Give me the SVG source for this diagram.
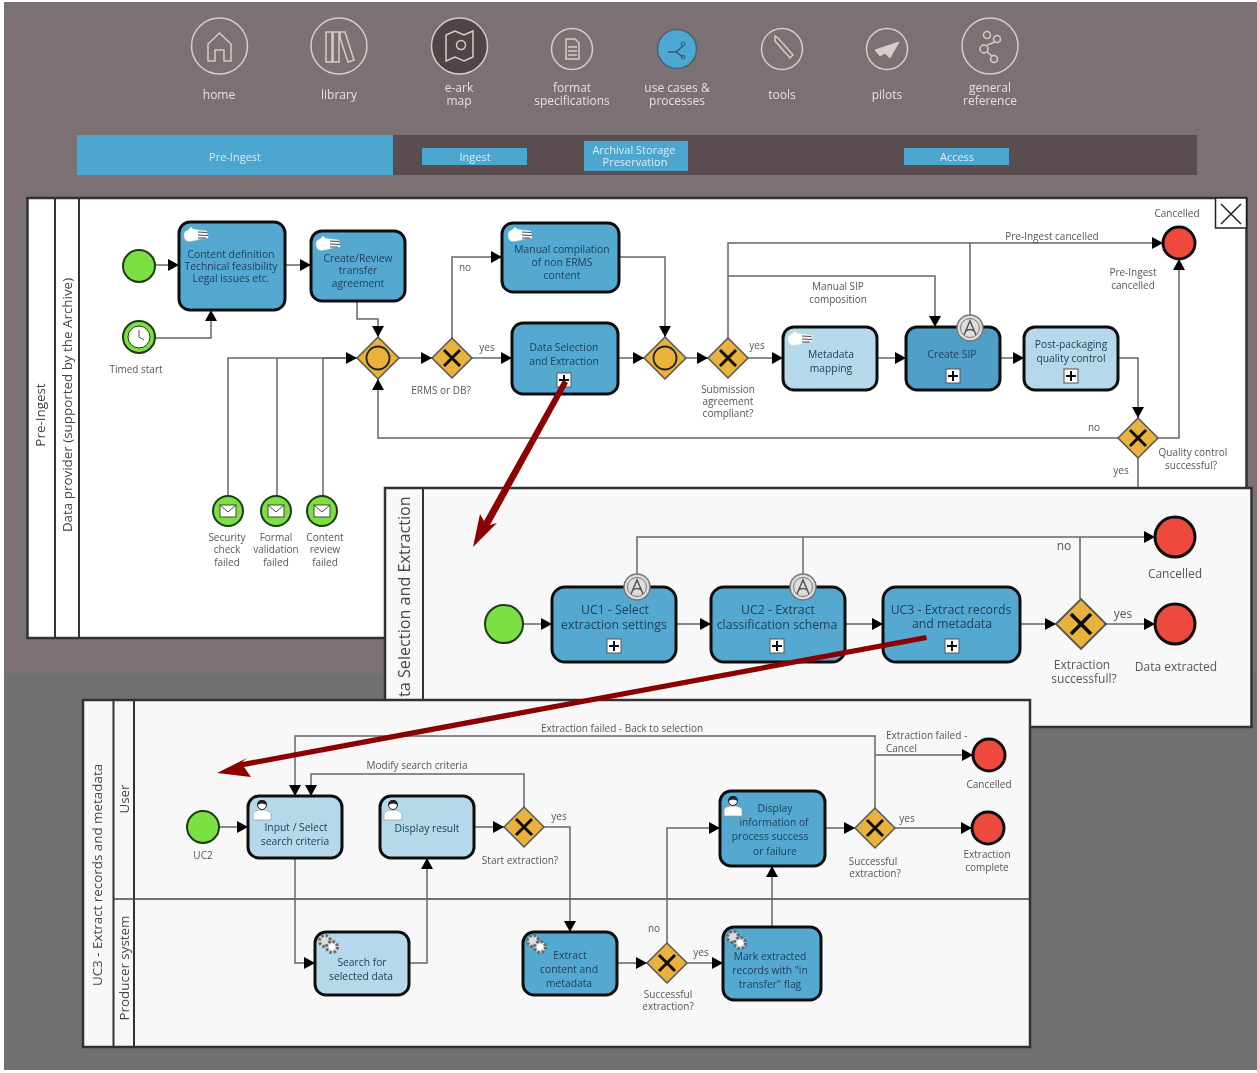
<svg xmlns="http://www.w3.org/2000/svg" width="1257" height="1073" viewBox="0 0 1257 1073">
<style>
text{font-family:"Open Sans","Liberation Sans",sans-serif;text-anchor:middle}
.nav{font-size:12px;fill:#e4dfdf}
.bar{font-size:11px;fill:#d9edf7}
.lb{font-size:10px;fill:#555}
.lbs{font-size:10px;fill:#555;text-anchor:start}
.lb2{font-size:12px;fill:#555}
.t{font-size:10.300px;fill:#20425c}
.t2{font-size:12.300px;fill:#20425c}
.lane{font-size:13.400px;fill:#444}
.ic{fill:none;stroke:#d5cccc;stroke-width:1.5}
.pane{stroke:#333;stroke-width:2.5}
.ln{stroke:#333;stroke-width:2;fill:none}
.dk{fill:#55a8d0;stroke:#111;stroke-width:3}
.lt{fill:#b5d9ea;stroke:#111;stroke-width:3}
.start{fill:#7be042;stroke:#1d3a12;stroke-width:2}
.end{fill:#ee4a3d;stroke:#111;stroke-width:3}
.c{fill:none;stroke:#666;stroke-width:1.5;marker-end:url(#ah)}
.c0{fill:none;stroke:#666;stroke-width:1.5}
</style>
<defs>
<filter id="soft" x="0" y="0" width="100%" height="100%"><feGaussianBlur stdDeviation="0.45"/></filter>
<marker id="ah" markerUnits="userSpaceOnUse" markerWidth="12" markerHeight="12" refX="11" refY="6" orient="auto"><path d="M0 0L11 6L0 12Z" fill="#000"/></marker>
<g id="gx"><path d="M-20 0L0-20L20 0L0 20Z" fill="#e9b23c" stroke="#555" stroke-width="1.5"/><path d="M-8-8L8 8M8-8L-8 8" stroke="#111" stroke-width="3"/></g>
<g id="go"><path d="M-21 0L0-21L21 0L0 21Z" fill="#e9b23c" stroke="#555" stroke-width="1.5"/><circle r="11.5" fill="none" stroke="#222" stroke-width="1.8"/></g>
<g id="plus"><rect x="-7" y="-7" width="14" height="14" fill="#fff" stroke="#555"/><path d="M-5 0H5M0-5V5" stroke="#111" stroke-width="2"/></g>
<g id="hand"><path d="M1 8Q1 4 5 3L8 0L10 2L15 3L24 4V7L25 8V11L17 12Q8 15 4 14Q1 12 1 8Z" fill="#fff" stroke="#ddd" stroke-width=".5"/><path d="M15 5L24 5.500M15 8L25 8.500M15 11L23 11" stroke="#444" stroke-width="1"/></g>
<g id="user"><path d="M0 21V15Q0 12 6 11L12 11Q18 12 18 15V21Z" fill="#fff" stroke="#999" stroke-width=".7"/><circle cx="9" cy="6" r="4.5" fill="#fff" stroke="#222"/><path d="M4.500 6Q4 1 9 1Q14 1 13.500 6Q9 3 4.500 6Z" fill="#222"/></g>
<g id="gear1"><circle r="5.500" fill="#ddd" stroke="#666" stroke-width="3" stroke-dasharray="2.500 1.800"/></g>
<g id="gears"><use href="#gear1" x="7" y="7"/><use href="#gear1" x="14" y="13"/><circle cx="14" cy="13" r="3" fill="#fff"/></g>
<g id="attach"><circle r="13" fill="#ddd" stroke="#777" stroke-width="1.500"/><circle r="9.500" fill="none" stroke="#777"/><path d="M-6 7L0-7L6 7M-4 3Q0 0 4 3" fill="none" stroke="#555" stroke-width="1.500"/></g>
</defs>
<rect width="1257" height="1073" fill="#fff"/>
<g filter="url(#soft)">
<rect x="4" y="2" width="1253" height="672" fill="#7b7172"/>
<rect x="4" y="674" width="1253" height="396" fill="#717071"/>

<g id="nav-home"><circle cx="219.500" cy="46" r="28" class="ic"/><path d="M208 61V44L219.500 33L231 44V61H224V50H215V61Z" class="ic"/><text x="219" y="99" class="nav">home</text></g>
<g id="nav-library"><circle cx="339" cy="46" r="28" class="ic"/><path d="M326 32h6v30h-6zM333 32h6v30h-6zM340 32h5l9 28-6 2-8-24z" class="ic"/><text x="339" y="99" class="nav">library</text></g>
<g id="nav-map"><circle cx="459.500" cy="46" r="28" fill="#4f4546" stroke="#d5cccc" stroke-width="1.500"/><path d="M446 35L455 31L464 35L473 31V57L464 61L455 57L446 61Z" class="ic"/><circle cx="461" cy="45" r="4.500" class="ic"/><text x="459" y="92" class="nav">e-ark</text><text x="459" y="105" class="nav">map</text></g>
<g id="nav-format"><circle cx="572" cy="49" r="20.500" class="ic"/><path d="M566 39H575L579 43V59H566Z" class="ic"/><path d="M568 47H577M568 51H577M568 55H577" class="ic"/><text x="572" y="92" class="nav">format</text><text x="572" y="105" class="nav">specifications</text></g>
<g id="nav-usecases"><circle cx="677" cy="49" r="19.500" fill="#4ea9d4" stroke="#4b6070" stroke-width="1.500"/><path d="M668 52H676L683 46M676 52L683 57" fill="none" stroke="#37566a" stroke-width="1.500"/><circle cx="683" cy="44" r="2" fill="none" stroke="#37566a"/><circle cx="683" cy="57" r="2" fill="none" stroke="#37566a"/><text x="677" y="92" class="nav">use cases &amp;</text><text x="677" y="105" class="nav">processes</text></g>
<g id="nav-tools"><circle cx="782" cy="49" r="20.500" class="ic"/><path d="M775 41L790 58L793 55L778 38L775 36Z" class="ic"/><text x="782" y="99" class="nav">tools</text></g>
<g id="nav-pilots"><circle cx="887" cy="49" r="20.500" class="ic"/><path d="M875 50L899 42L890 58L885 53L880 56Z" fill="#d5cccc" stroke="#d5cccc"/><text x="887" y="99" class="nav">pilots</text></g>
<g id="nav-general"><circle cx="990" cy="46" r="28" class="ic"/><circle cx="987" cy="35" r="3.500" class="ic"/><circle cx="997" cy="39" r="3.500" class="ic"/><circle cx="984" cy="49" r="4" class="ic"/><circle cx="994" cy="59" r="3.500" class="ic"/><path d="M987 45L995 42M987 52L992 56" class="ic"/><text x="990" y="92" class="nav">general</text><text x="990" y="105" class="nav">reference</text></g>

<g id="phase-bar"><rect x="77" y="135" width="1120" height="40" fill="#5a4d50"/>
<g id="tab-preingest"><rect x="77" y="135" width="316" height="40" fill="#4ea6d0"/><text x="235" y="161" class="bar">Pre-Ingest</text></g>
<g id="tab-ingest"><rect x="422" y="148" width="105" height="17" fill="#4ea6d0"/><text x="475" y="161" class="bar">Ingest</text></g>
<g id="tab-storage"><rect x="584" y="141" width="104" height="30" fill="#4ea6d0"/><text x="634" y="154" class="bar">Archival Storage</text><text x="635" y="166" class="bar">Preservation</text></g>
<g id="tab-access"><rect x="904" y="148" width="105" height="17" fill="#4ea6d0"/><text x="957" y="161" class="bar">Access</text></g></g>

<g id="panel-1"><rect x="27.500" y="198" width="1219" height="440" fill="#fff" class="pane"/><path d="M55 198V638M79 198V638" class="ln"/>
<text transform="translate(45 415) rotate(-90)" class="lane">Pre-Ingest</text><text transform="translate(72 405) rotate(-90)" class="lane">Data provider (supported by the Archive)</text>
<g id="close"><rect x="1215.500" y="198" width="31" height="30" fill="#fff" stroke="#222" stroke-width="1.500"/><path d="M1221 204L1241 224M1241 204L1221 224" stroke="#222" stroke-width="1.500"/></g></g>

<g id="connectors-1">
<path class="c" d="M155 265H179"/><path class="c" d="M285 265H311"/><path class="c" d="M155 338H211V310"/><path class="c" d="M357 301V319H378V337"/>
<path class="c0" d="M228 496V358H357M277 496V358M323 496V358"/><path class="c" d="M323 358H357"/>
<path class="c" d="M1118 438H378V379"/><path class="c" d="M399 358H432"/><path class="c" d="M452 338V257H502"/><path class="c" d="M472 358H512"/><path class="c" d="M618 358H644"/><path class="c" d="M619 257H665V337"/><path class="c" d="M686 358H708"/><path class="c" d="M748 358H783"/>
<path class="c" d="M728 338V243H1163"/><path class="c" d="M728 276H935V327"/><path class="c" d="M877 358H906"/><path class="c" d="M1000 358H1024"/><path class="c0" d="M970 316V243"/>
<path class="c" d="M1118 358H1138V418"/><path class="c" d="M1158 438H1179V259"/><path class="c0" d="M1138 458V489"/>
</g>
<g id="labels-1">
<text x="465" y="271" class="lb">no</text><text x="487" y="351" class="lb">yes</text><text x="441" y="394" class="lb">ERMS or DB?</text>
<text x="728" y="393" class="lb">Submission</text><text x="728" y="405" class="lb">agreement</text><text x="728" y="417" class="lb">compliant?</text>
<text x="757" y="349" class="lb">yes</text><text x="838" y="290" class="lb">Manual SIP</text><text x="838" y="303" class="lb">composition</text>
<text x="1052" y="240" class="lb">Pre-Ingest cancelled</text><text x="1177" y="217" class="lb">Cancelled</text><text x="1133" y="276" class="lb">Pre-Ingest</text><text x="1133" y="289" class="lb">cancelled</text>
<text x="1094" y="431" class="lb">no</text><text x="1193" y="456" class="lb">Quality control</text><text x="1191" y="469" class="lb">successful?</text><text x="1121" y="474" class="lb">yes</text>
</g>
<g id="start-1"><circle cx="139" cy="266" r="16" class="start"/></g>
<g id="timed-start"><circle cx="139" cy="337" r="16" class="start"/><circle cx="139" cy="337" r="11" fill="#fff" stroke="#1d3a12"/><path d="M139 330V337L144 340" fill="none" stroke="#555"/><text x="136" y="373" class="lb">Timed start</text></g>
<g id="content-def"><rect x="179" y="222" width="106" height="88" rx="11" class="dk"/><use href="#hand" x="183" y="227"/><text x="231" y="258" class="t">Content definition</text><text x="231" y="270" class="t">Technical feasibility</text><text x="231" y="282" class="t">Legal issues etc.</text></g>
<g id="create-review"><rect x="311" y="231" width="94" height="70" rx="11" class="dk"/><use href="#hand" x="315" y="236"/><text x="358" y="262" class="t">Create/Review</text><text x="358" y="274" class="t">transfer</text><text x="358" y="287" class="t">agreement</text></g>
<g id="gw-merge-1"><use href="#go" x="378" y="358"/></g>
<g id="gw-erms"><use href="#gx" x="452" y="358"/></g>
<g id="manual"><rect x="502" y="223" width="117" height="69" rx="11" class="dk"/><use href="#hand" x="507" y="227"/><text x="562" y="253" class="t">Manual compilation</text><text x="562" y="266" class="t">of non ERMS</text><text x="562" y="279" class="t">content</text></g>
<g id="data-selection"><rect x="512" y="323" width="106" height="71" rx="11" class="dk"/><text x="564" y="351" class="t">Data Selection</text><text x="564" y="365" class="t">and Extraction</text><use href="#plus" x="564" y="380"/></g>
<g id="gw-merge-2"><use href="#go" x="665" y="358"/></g>
<g id="gw-submission"><use href="#gx" x="728" y="358"/></g>
<g id="metadata"><rect x="783" y="327" width="94" height="63" rx="11" class="lt"/><use href="#hand" x="787" y="331"/><text x="831" y="358" class="t">Metadata</text><text x="831" y="372" class="t">mapping</text></g>
<g id="create-sip"><rect x="906" y="327" width="94" height="63" rx="11" class="dk" style="fill:#4f9fc9"/><text x="952" y="358" class="t">Create SIP</text><use href="#plus" x="953" y="376"/><use href="#attach" x="970" y="328"/></g>
<g id="post-packaging"><rect x="1024" y="327" width="94" height="63" rx="11" class="lt"/><text x="1071" y="348" class="t">Post-packaging</text><text x="1071" y="362" class="t">quality control</text><use href="#plus" x="1071" y="376"/></g>
<g id="gw-quality"><use href="#gx" x="1138" y="438"/></g>
<g id="end-1"><circle cx="1179" cy="243" r="16" class="end"/></g>
<g id="msg-1"><circle cx="228" cy="511" r="15" class="start"/><rect x="220" y="505" width="16" height="12" fill="#fff" stroke="#444"/><path d="M220 505L228 512L236 505" fill="none" stroke="#444"/><text x="227" y="541" class="lb">Security</text><text x="227" y="553" class="lb">check</text><text x="227" y="566" class="lb">failed</text></g>
<g id="msg-2"><circle cx="276" cy="511" r="15" class="start"/><rect x="268" y="505" width="16" height="12" fill="#fff" stroke="#444"/><path d="M268 505L276 512L284 505" fill="none" stroke="#444"/><text x="276" y="541" class="lb">Formal</text><text x="276" y="553" class="lb">validation</text><text x="276" y="566" class="lb">failed</text></g>
<g id="msg-3"><circle cx="322" cy="511" r="15" class="start"/><rect x="314" y="505" width="16" height="12" fill="#fff" stroke="#444"/><path d="M314 505L322 512L330 505" fill="none" stroke="#444"/><text x="325" y="541" class="lb">Content</text><text x="325" y="553" class="lb">review</text><text x="325" y="566" class="lb">failed</text></g>

<g id="panel-2"><rect x="385" y="488" width="866.500" height="239" fill="#f8f8f8" class="pane"/><path d="M423 488V700" class="ln"/><text transform="translate(410 697) rotate(-90)" style="text-anchor:start;font-size:16.200px;fill:#444">ta Selection and Extraction</text></g>
<g id="connectors-2">
<path class="c" d="M523 624H552"/><path class="c" d="M676 624H711"/><path class="c" d="M845 624H883"/><path class="c" d="M1020 624H1056"/><path class="c" d="M1106 624H1155"/>
<path class="c" d="M637 575V537H1155"/><path class="c0" d="M803 575V537M1080 599V537"/>
</g>
<g id="labels-2"><text x="1064" y="550" class="lb2">no</text><text x="1123" y="618" class="lb2">yes</text><text x="1175" y="578" class="lb2">Cancelled</text><text x="1176" y="671" class="lb2">Data extracted</text><text x="1082" y="669" class="lb2">Extraction</text><text x="1084" y="683" class="lb2">successfull?</text></g>
<g id="start-2"><circle cx="504" cy="624" r="19" class="start"/></g>
<g id="uc1"><rect x="552" y="587" width="124" height="75" rx="13" class="dk"/><text x="615" y="614" class="t2">UC1 - Select</text><text x="614" y="629" class="t2">extraction settings</text><use href="#plus" x="614" y="646"/><use href="#attach" x="637" y="587"/></g>
<g id="uc2"><rect x="711" y="587" width="134" height="75" rx="13" class="dk"/><text x="778" y="614" class="t2">UC2 - Extract</text><text x="777" y="629" class="t2">classification schema</text><use href="#plus" x="777" y="646"/><use href="#attach" x="803" y="587"/></g>
<g id="uc3"><rect x="883" y="587" width="137" height="75" rx="13" class="dk"/><text x="951" y="614" class="t2">UC3 - Extract records</text><text x="952" y="628" class="t2">and metadata</text><use href="#plus" x="952" y="646"/></g>
<g id="gw-extraction"><use href="#gx" transform="translate(1081 624) scale(1.250)"/></g>
<g id="end-2a"><circle cx="1175" cy="537" r="20" class="end"/></g>
<g id="end-2b"><circle cx="1175" cy="624" r="20" class="end"/></g>

<g id="panel-3"><rect x="83" y="700" width="947" height="347" fill="#f8f8f8" class="pane"/><path d="M113.500 700V1047M134 700V1047" class="ln"/><path d="M114 899H1030" stroke="#444" stroke-width="1.500"/>
<text transform="translate(102 875) rotate(-90)" class="lane">UC3 - Extract records and metadata</text><text transform="translate(129 799) rotate(-90)" class="lane">User</text><text transform="translate(129 968) rotate(-90)" class="lane">Producer system</text></g>
<g id="connectors-3">
<path class="c" d="M219 827H248"/><path class="c" d="M295 858V963H315"/><path class="c" d="M409 963H427V858"/><path class="c" d="M474 827H504"/><path class="c" d="M524 807V774H311V796"/><path class="c" d="M544 827H570V932"/><path class="c" d="M617 963H647"/><path class="c" d="M687 963H723"/><path class="c" d="M667 943V828H720"/><path class="c" d="M772 927V866"/><path class="c" d="M825 828H855"/><path class="c" d="M895 828H972"/><path class="c" d="M875 808V736H295V796"/><path class="c" d="M875 755H973"/>
</g>
<g id="labels-3">
<text x="622" y="732" class="lb">Extraction failed - Back to selection</text><text x="886" y="739" class="lbs">Extraction failed -</text><text x="886" y="752" class="lbs">Cancel</text><text x="989" y="788" class="lb">Cancelled</text><text x="417" y="769" class="lb">Modify search criteria</text><text x="559" y="820" class="lb">yes</text><text x="907" y="822" class="lb">yes</text><text x="654" y="932" class="lb">no</text><text x="701" y="956" class="lb">yes</text><text x="520" y="864" class="lb">Start extraction?</text><text x="668" y="998" class="lb">Successful</text><text x="668" y="1010" class="lb">extraction?</text><text x="873" y="865" class="lb">Successful</text><text x="875" y="877" class="lb">extraction?</text><text x="987" y="858" class="lb">Extraction</text><text x="987" y="871" class="lb">complete</text>
</g>
<g id="start-3"><circle cx="203" cy="827" r="16" class="start"/><text x="203" y="859" class="lb">UC2</text></g>
<g id="input-select"><rect x="248" y="796" width="94" height="62" rx="11" class="lt"/><use href="#user" x="253" y="799"/><text x="296" y="831" class="t">Input / Select</text><text x="295" y="845" class="t">search criteria</text></g>
<g id="display-result"><rect x="380" y="796" width="94" height="62" rx="11" class="lt"/><use href="#user" x="384" y="799"/><text x="427" y="832" class="t">Display result</text></g>
<g id="gw-start"><use href="#gx" x="524" y="827"/></g>
<g id="search"><rect x="315" y="932" width="94" height="63" rx="11" class="lt"/><use href="#gears" x="318" y="934"/><text x="362" y="966" class="t">Search for</text><text x="361" y="980" class="t">selected data</text></g>
<g id="extract"><rect x="523" y="932" width="94" height="63" rx="11" class="dk"/><use href="#gears" x="526" y="934"/><text x="570" y="959" class="t">Extract</text><text x="569" y="973" class="t">content and</text><text x="569" y="987" class="t">metadata</text></g>
<g id="gw-success-1"><use href="#gx" x="667" y="963"/></g>
<g id="mark"><rect x="723" y="927" width="98" height="73" rx="11" class="dk"/><use href="#gears" x="726" y="930"/><text x="770" y="960" class="t">Mark extracted</text><text x="770" y="974" class="t">records with "in</text><text x="770" y="988" class="t">transfer" flag</text></g>
<g id="display-info"><rect x="720" y="791" width="105" height="75" rx="11" class="dk"/><use href="#user" x="724" y="795"/><text x="775" y="812" class="t">Display</text><text x="774" y="826" class="t">information of</text><text x="770" y="840" class="t">process success</text><text x="775" y="855" class="t">or failure</text></g>
<g id="gw-success-2"><use href="#gx" x="875" y="828"/></g>
<g id="end-3a"><circle cx="989" cy="755" r="16" class="end"/></g>
<g id="end-3b"><circle cx="988" cy="828" r="16" class="end"/></g>

<g id="callouts" fill="#8b0000">
<path d="M563 380L568 383L490 525L497 523L473 547L480 514L484 521Z"/>
<path d="M926 635L927 640L244 767L251 777L217 773L247 758L242 762Z"/>
</g>
</g>
</svg>
